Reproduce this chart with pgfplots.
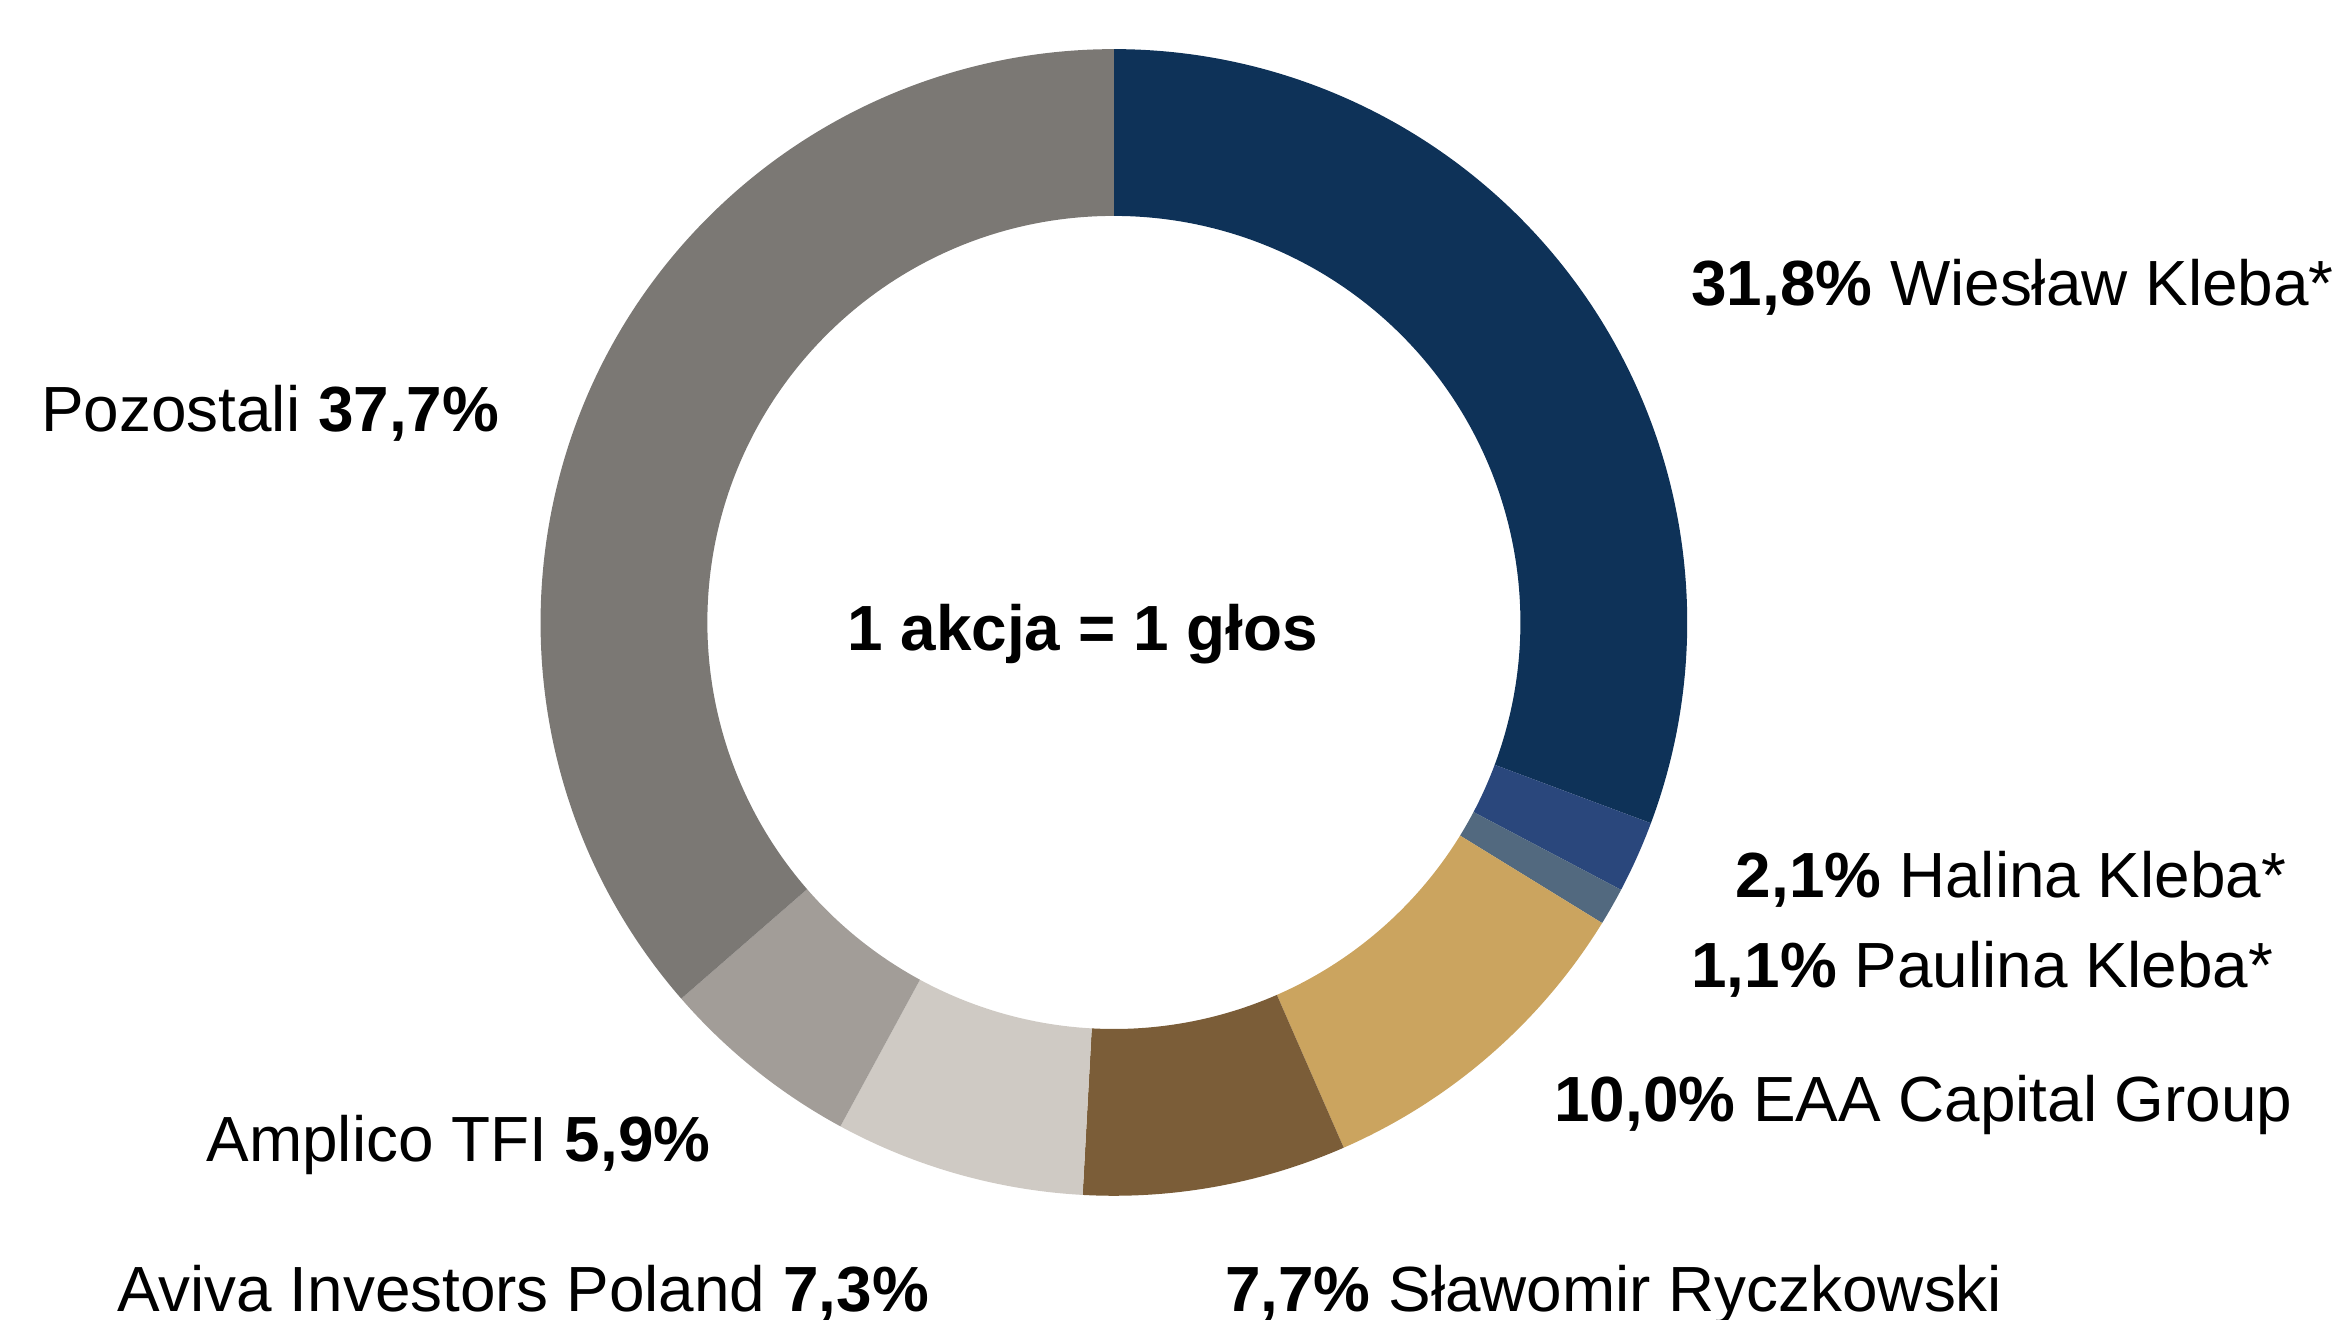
\documentclass[border=0pt]{standalone}
\usepackage{fontspec}
\setmainfont{Liberation Sans}
\usepackage{pgfplots}
\usepackage{pgfplotstable}
\pgfplotsset{compat=1.18}

\definecolor{cWK}{HTML}{0E3258}
\definecolor{cHK}{HTML}{2A477C}
\definecolor{cPK}{HTML}{52697F}
\definecolor{cEAA}{HTML}{CBA45F}
\definecolor{cSR}{HTML}{7B5D38}
\definecolor{cAV}{HTML}{CFCAC4}
\definecolor{cAM}{HTML}{A29D98}
\definecolor{cPO}{HTML}{7B7874}

% shares in clockwise order from 12 o'clock
\pgfplotstableread[col sep=comma]{
holder,value,colour
Wieslaw Kleba,31.8,cWK
Halina Kleba,2.1,cHK
Paulina Kleba,1.1,cPK
EAA Capital Group,10.0,cEAA
Slawomir Ryczkowski,7.7,cSR
Aviva Investors Poland,7.3,cAV
Amplico TFI,5.9,cAM
Pozostali,37.7,cPO
}\shares

\begin{document}
\begin{tikzpicture}
\begin{axis}[
    hide axis,
    scale only axis,
    width=156.8mm, height=88.6mm,
    xmin=0, xmax=1568, ymin=0, ymax=886,
    clip=false,
]
\coordinate (bl) at (axis cs:0,0);
\coordinate (tr) at (axis cs:1568,886);

% total of all shares
\pgfmathsetmacro\total{0}
\pgfplotsforeachungrouped \i in {0,...,7}{
  \pgfplotstablegetelem{\i}{value}\of\shares
  \pgfmathsetmacro\total{\total+\pgfplotsretval}
}

% ring segments
\pgfmathsetmacro\cum{0}
\pgfplotsforeachungrouped \i in {0,...,7}{
  \pgfplotstablegetelem{\i}{value}\of\shares \let\val=\pgfplotsretval
  \pgfplotstablegetelem{\i}{colour}\of\shares \let\col=\pgfplotsretval
  \pgfmathsetmacro\aA{90-\cum/\total*360}
  \pgfmathsetmacro\aB{90-(\cum+\val)/\total*360}
  \pgfmathsetmacro\xA{748+385*cos(\aA)}
  \pgfmathsetmacro\yA{468+385*sin(\aA)}
  \pgfmathsetmacro\xB{748+273*cos(\aB)}
  \pgfmathsetmacro\yB{468+273*sin(\aB)}
  \edef\seg{\noexpand\fill[\col] (axis cs:\xA,\yA)
    arc[start angle=\aA, end angle=\aB, radius=38.5mm]
    -- (axis cs:\xB,\yB)
    arc[start angle=\aB, end angle=\aA, radius=27.3mm] -- cycle;}
  \seg
  \pgfmathsetmacro\cum{\cum+\val}
}

\begin{scope}[every node/.style={inner sep=0pt, font=\fontsize{12.2}{14}\selectfont}]
\node[anchor=base west] at (axis cs:1135,681) {\textbf{31,8\%} Wiesław Kleba*};
\node[anchor=base west] at (axis cs:27,596) {Pozostali \textbf{37,7\%}};
\node[anchor=base] at (axis cs:727,449) {\textbf{1 akcja = 1 głos}};
\node[anchor=base west] at (axis cs:1165,283) {\textbf{2,1\%} Halina Kleba*};
\node[anchor=base west] at (axis cs:1135,223) {\textbf{1,1\%} Paulina Kleba*};
\node[anchor=base west] at (axis cs:1043,133) {\textbf{10,0\%} EAA Capital Group};
\node[anchor=base west] at (axis cs:138,106) {Amplico TFI \textbf{5,9\%}};
\node[anchor=base west] at (axis cs:78,5) {Aviva Investors Poland \textbf{7,3\%}};
\node[anchor=base west] at (axis cs:822,5) {\textbf{7,7\%} Sławomir Ryczkowski};
\end{scope}
\end{axis}
\pgfresetboundingbox
\useasboundingbox (bl) rectangle (tr);
\end{tikzpicture}
\end{document}
